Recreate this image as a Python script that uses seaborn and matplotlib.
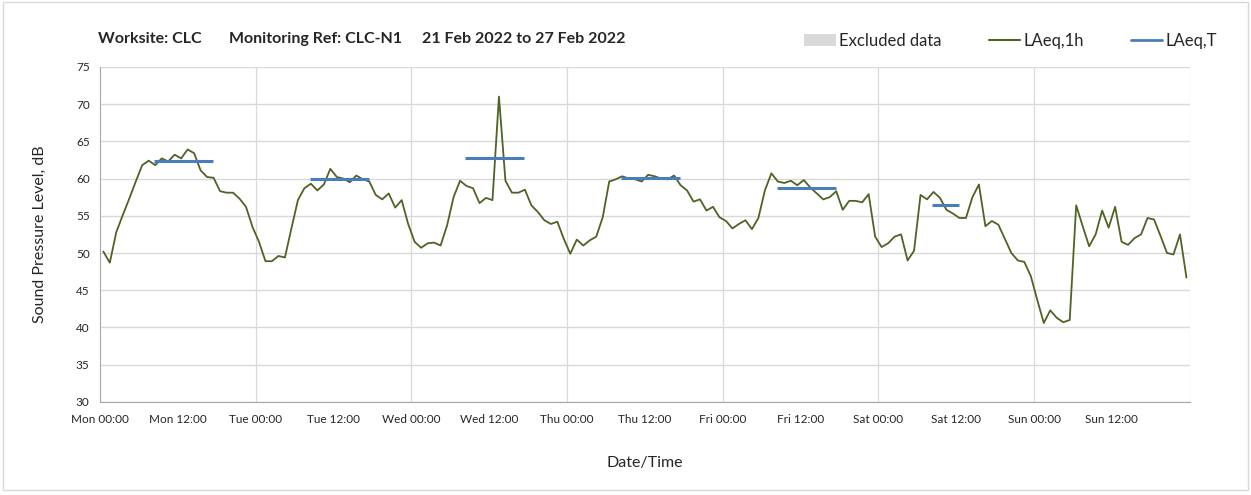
import numpy as np
import pandas as pd
import matplotlib
matplotlib.use("Agg")
import matplotlib.pyplot as plt
import seaborn as sns
from matplotlib.patches import Patch, Rectangle
from matplotlib.lines import Line2D

# Hourly LAeq,1h values (dB), Mon 00:00 -> Sun 23:00
mon = [50.2, 48.7, 52.8, 55.1, 57.3, 59.6, 61.8, 62.4, 61.8, 62.7, 62.3, 63.2,
       62.7, 63.9, 63.4, 61.1, 60.2, 60.1, 58.3, 58.1, 58.1, 57.3, 56.2, 53.5]
tue = [51.5, 48.9, 48.9, 49.6, 49.4, 53.3, 57.1, 58.7, 59.3, 58.4, 59.2, 61.3,
       60.2, 60.0, 59.5, 60.4, 59.9, 59.6, 57.8, 57.2, 58.0, 56.1, 57.1, 53.9]
wed = [51.5, 50.7, 51.3, 51.4, 51.0, 53.7, 57.5, 59.7, 59.0, 58.7, 56.7, 57.4,
       57.1, 71.0, 59.7, 58.1, 58.1, 58.5, 56.4, 55.5, 54.4, 53.9, 54.2, 51.9]
thu = [49.9, 51.8, 51.0, 51.7, 52.2, 54.8, 59.6, 59.9, 60.3, 60.0, 59.9, 59.6,
       60.5, 60.3, 60.0, 59.9, 60.4, 59.1, 58.4, 56.9, 57.2, 55.7, 56.2, 54.8]
fri = [54.3, 53.3, 53.9, 54.4, 53.2, 54.7, 58.4, 60.7, 59.6, 59.4, 59.7, 59.1,
       59.8, 58.8, 58.0, 57.2, 57.5, 58.3, 55.8, 57.0, 57.0, 56.8, 57.9, 52.2]
sat = [50.8, 51.3, 52.2, 52.5, 49.0, 50.3, 57.8, 57.2, 58.2, 57.4, 55.8, 55.3,
       54.7, 54.7, 57.5, 59.2, 53.6, 54.3, 53.8, 51.9, 50.0, 49.0, 48.8, 46.9]
sun = [43.7, 40.6, 42.3, 41.3, 40.7, 41.0, 56.4, 53.6, 50.9, 52.5, 55.7, 53.4,
       56.2, 51.5, 51.1, 52.0, 52.5, 54.7, 54.5, 52.3, 50.0, 49.8, 52.5, 46.7]

# LAeq,T daytime values per day (dB) and their period (hours of the day)
laeqt_day = [0, 1, 2, 3, 4, 5]
laeqt_val = [62.3, 59.9, 62.7, 60.1, 58.7, 56.5]
laeqt_start = [8.3, 8.3, 8.3, 8.3, 8.3, 8.3]
laeqt_end = [17.4, 17.4, 17.4, 17.4, 17.4, 12.5]

tick_labels = ["Mon 00:00", "Mon 12:00", "Tue 00:00", "Tue 12:00", "Wed 00:00",
               "Wed 12:00", "Thu 00:00", "Thu 12:00", "Fri 00:00", "Fri 12:00",
               "Sat 00:00", "Sat 12:00", "Sun 00:00", "Sun 12:00"]

levels = mon + tue + wed + thu + fri + sat + sun
df = pd.DataFrame({"hour": np.arange(len(levels)) + 0.5, "level": levels})

sns.set_style("white")
plt.rcParams["font.family"] = ["Lato", "DejaVu Sans"]

green = "#4F6228"
blue = "#4A7EBB"
grid_c = "#d9d9d9"

fig = plt.figure(figsize=(12.51, 4.95), dpi=100)
ax = fig.add_axes([0.08, 0.188, 0.871, 0.677])

sns.lineplot(data=df, x="hour", y="level", color=green, linewidth=1.3, ax=ax)
for d, v, s, e in zip(laeqt_day, laeqt_val, laeqt_start, laeqt_end):
    ax.hlines(v, d * 24 + s, d * 24 + e, color=blue, linewidth=2.2, zorder=3)

ax.set_xlim(0, 168)
ax.set_ylim(30, 75)
ax.set_yticks(range(30, 76, 5))
ax.set_xticks(range(0, 168, 12))
ax.set_xticklabels(tick_labels, fontsize=8.5)
ax.tick_params(axis="y", labelsize=8.5, length=4, color="#888888", direction="out")
ax.tick_params(axis="x", length=4, color="#888888", direction="out", pad=5)
ax.yaxis.grid(True, color=grid_c, linewidth=1.0)
for x in range(24, 169, 24):
    ax.axvline(x, color=grid_c, linewidth=0.9, zorder=0)
for side in ["top", "right"]:
    ax.spines[side].set_visible(False)
ax.spines["left"].set_color("#a6a6a6")
ax.spines["bottom"].set_color("#a6a6a6")

ax.set_xlabel("Date/Time", fontsize=11.5, labelpad=22)
ax.set_ylabel("Sound Pressure Level, dB", fontsize=11.5, labelpad=21)

fig.text(0.078, 0.922, "Worksite: CLC", fontsize=11.5, fontweight="bold", va="center")
fig.text(0.183, 0.922, "Monitoring Ref: CLC-N1", fontsize=11.5, fontweight="bold", va="center")
fig.text(0.337, 0.922, "21 Feb 2022 to 27 Feb 2022", fontsize=11.5, fontweight="bold", va="center")

handles = [Patch(facecolor=grid_c, edgecolor="none", label="Excluded data"),
           Line2D([], [], color=green, linewidth=1.5, label="LAeq,1h"),
           Line2D([], [], color=blue, linewidth=2, label="LAeq,T")]
fig.legend(handles=handles, loc="center right", bbox_to_anchor=(0.985, 0.918),
           ncol=3, frameon=False, fontsize=12, handlelength=1.9,
           handletextpad=0.2, columnspacing=2.8)

fig.add_artist(Rectangle((0.002, 0.01), 0.996, 0.985, transform=fig.transFigure,
                         fill=False, edgecolor=grid_c, linewidth=1))

fig.savefig("out.png", dpi=100)
